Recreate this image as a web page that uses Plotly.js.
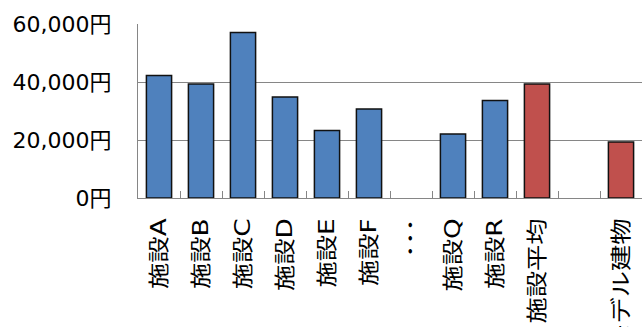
<!DOCTYPE html>
<html>
<head>
<meta charset="utf-8">
<script src="https://cdn.plot.ly/plotly-3.0.1.min.js"></script>
<style>html,body{margin:0;padding:0;background:#fff;}#chart{width:642px;height:327px;}</style>
</head>
<body>
<div id="chart"></div>
<script>
const categories = ["施設A", "施設B", "施設C", "施設D", "施設E", "施設F", "･･･", "施設Q", "施設R", "施設平均", " ", "モデル建物"];
const values = [42200, 39300, 57100, 34800, 23300, 30700, null, 22100, 33600, 39300, null, 19300];
const barColors = ["#4F81BD", "#4F81BD", "#4F81BD", "#4F81BD", "#4F81BD", "#4F81BD", "#4F81BD", "#4F81BD", "#4F81BD", "#C0504D", "#C0504D", "#C0504D"];
const yTicks = [0, 20000, 40000, 60000];
const yTickText = yTicks.map(v => v.toLocaleString("en-US") + "円");

const fontFam = "DejaVu Sans, Noto Sans CJK JP, sans-serif";

Plotly.newPlot("chart", [{
  type: "bar",
  x: categories,
  y: values,
  marker: {color: barColors, line: {color: "#111111", width: 1.5}},
  hoverinfo: "none"
}], {
  width: 642, height: 327,
  margin: {l: 138, r: 0, t: 24, b: 129},
  paper_bgcolor: "#ffffff", plot_bgcolor: "#ffffff",
  showlegend: false,
  bargap: 0.4,
  font: {family: fontFam, color: "#000000"},
  xaxis: {
    type: "category",
    tickangle: -90,
    tickson: "boundaries",
    ticks: "inside",
    ticklen: 7,
    tickwidth: 1,
    tickcolor: "#868686",
    showline: true, linecolor: "#868686", linewidth: 1,
    showgrid: false,
    ticklabelstandoff: 11,
    tickfont: {size: 21, family: fontFam, color: "#000"},
    fixedrange: true
  },
  yaxis: {
    range: [0, 60000],
    tickmode: "array",
    tickvals: yTicks,
    ticktext: yTickText,
    showgrid: true, gridcolor: "#868686", gridwidth: 1,
    showline: true, linecolor: "#868686", linewidth: 1,
    zeroline: false,
    ticks: "",
    ticklabelstandoff: 21,
    tickfont: {size: 22, family: fontFam, color: "#000"},
    fixedrange: true
  }
}, {staticPlot: true}).then(function (gd) {
  // the reference uses a horizontally wide face; widen the category labels along their run
  gd.querySelectorAll(".xtick text").forEach(function (t) {
    const len = t.getComputedTextLength();
    if (len > 0) {
      t.setAttribute("textLength", (len * 1.25).toFixed(1));
      t.setAttribute("lengthAdjust", "spacingAndGlyphs");
    }
  });
});
</script>
</body>
</html>
